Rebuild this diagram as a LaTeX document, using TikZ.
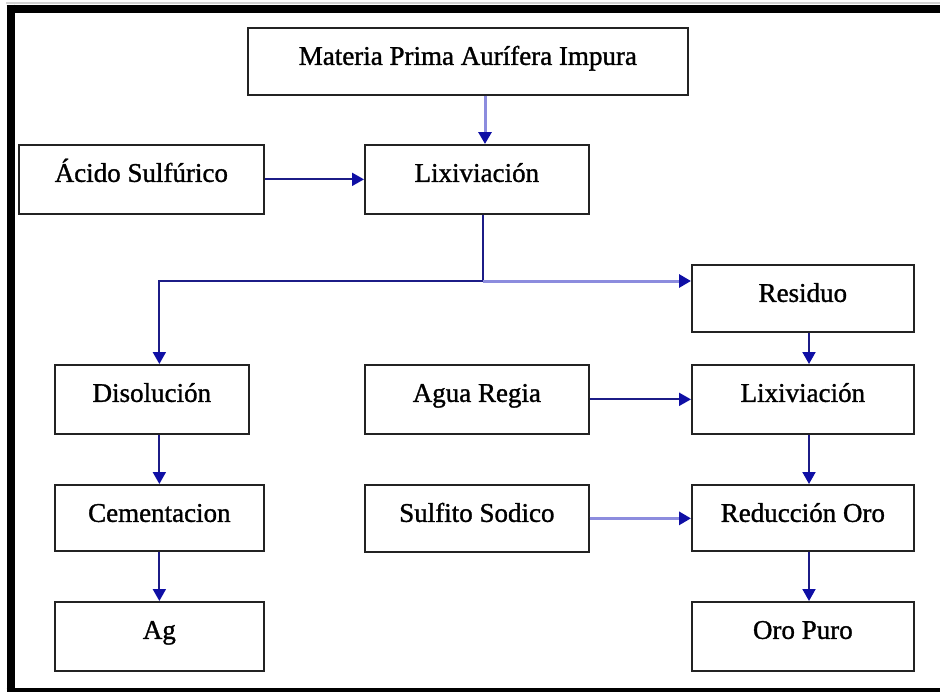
\documentclass[tikz,border=0pt]{standalone}
\usepackage{fontspec}
\usetikzlibrary{arrows.meta}
\newfontfamily\boxfont{Liberation Serif}[FakeBold=1.2]
\definecolor{boxgray}{RGB}{35,35,35}
\definecolor{dkblue}{RGB}{28,28,135}
\definecolor{ltblue}{RGB}{140,140,222}
\definecolor{tipblue}{RGB}{15,15,165}
\tikzset{
  box/.style={draw=boxgray, line width=1.7pt, fill=white, inner sep=0pt,
    anchor=north west, text height=37pt,
    font=\boxfont\fontsize{27}{30}\selectfont},
  dk/.style={draw=dkblue, line width=1.9pt},
  lt/.style={draw=ltblue, line width=3pt},
  arr/.style={-{Triangle[length=12pt,width=13pt,color=tipblue]}},
  frame/.style={black, line width=8pt},
}
\begin{document}
\begin{tikzpicture}[x=1pt, y=-1pt]
  \useasboundingbox (0,0) rectangle (940,691);
  \clip (0,0) rectangle (940,691);
  \fill[white] (0,0) rectangle (940,691);
  % outer frame: left, top and bottom edges
  \draw[gray!35, line width=2pt] (6,3) -- (940,3);
  \draw[frame] (10.5,4.5) -- (10.5,691);
  \draw[frame] (6.5,8.5) -- (940,8.5);
  \draw[frame] (6.5,692) -- (940,692);

  % process boxes
  \node[box, minimum width=440pt, text depth=30pt] (mat)   at (247,27)  {Materia Prima Aurífera Impura};
  \node[box, minimum width=245pt, text depth=32pt] (acido) at (18,144)  {Ácido Sulfúrico};
  \node[box, minimum width=224pt, text depth=32pt] (lixa)  at (364,144) {Lixiviación};
  \node[box, minimum width=222pt, text depth=30pt] (res)   at (691,264) {Residuo};
  \node[box, minimum width=194pt, text depth=32pt] (dis)   at (54,364)  {Disolución};
  \node[box, minimum width=224pt, text depth=32pt] (agua)  at (364,364) {Agua Regia};
  \node[box, minimum width=222pt, text depth=32pt] (lixb)  at (691,364) {Lixiviación};
  \node[box, minimum width=209pt, text depth=29pt] (cem)   at (54,484)  {Cementacion};
  \node[box, minimum width=224pt, text depth=30pt] (sulf)  at (364,484) {Sulfito Sodico};
  \node[box, minimum width=222pt, text depth=29pt] (red)   at (691,484) {Reducción Oro};
  \node[box, minimum width=209pt, text depth=32pt] (ag)    at (54,601)  {Ag};
  \node[box, minimum width=222pt, text depth=32pt] (oro)   at (691,601) {Oro Puro};

  % helper coordinates for the connector lines
  \coordinate (feed)  at (485,0);
  \coordinate (split) at (483,281);
  \coordinate (rcol)  at (809,0);

  % connectors
  \draw[lt, arr] (mat.south -| feed) -- (lixa.north -| feed);
  \draw[dk, arr] (acido.east) -- (lixa.west);
  \draw[dk] (lixa.south -| split) -- (split);
  \draw[dk, arr] (split) -| (dis.north -| cem.north);
  \draw[lt, arr] (split) -- (res.west |- split);
  \draw[dk, arr] (dis.south -| cem.north) -- (cem.north);
  \draw[dk, arr] (cem.south) -- (ag.north);
  \draw[dk, arr] (res.south -| rcol) -- (lixb.north -| rcol);
  \draw[dk, arr] (agua.east) -- (lixb.west |- agua.east);
  \draw[dk, arr] (lixb.south -| rcol) -- (red.north -| rcol);
  \draw[lt, arr] (sulf.east) -- (red.west |- sulf.east);
  \draw[dk, arr] (red.south -| rcol) -- (oro.north -| rcol);
\end{tikzpicture}
\end{document}
